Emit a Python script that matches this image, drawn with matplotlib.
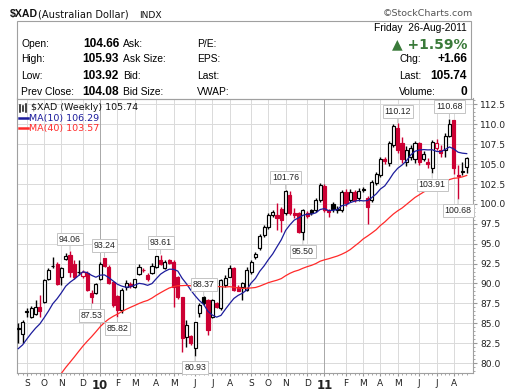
import matplotlib
matplotlib.use("Agg")
import matplotlib.pyplot as plt
import matplotlib.patches as patches
from matplotlib.ticker import MultipleLocator, FixedLocator
import numpy as np
import pandas as pd

# weekly bars ($XAD), week start dates
weeks = pd.date_range("2009-08-24", periods=105, freq="W-MON")

opens = [84.3, 83.7, 86.4, 85.8, 86.2, 87.0, 87.7, 90.6, 92.15, 92.5,
         90.8, 93.07, 93.57, 92.5, 91.45, 91.0, 91.3, 88.8, 88.8, 90.6,
         93.15, 92.1, 90.2, 88.4, 86.66, 89.6, 89.9, 89.6, 91.2, 91.75,
         91.06, 91.35, 92.1, 93.0, 91.9, 93.0, 92.7, 90.8, 88.25, 83.3,
         83.4, 81.84, 86.24, 88.3, 87.9, 85.82, 87.5, 86.87, 89.8, 90.85,
         91.9, 89.6, 89.6, 89.17, 91.4, 93.3, 94.4, 96.1, 97.1, 98.6,
         98.6, 99.4, 98.8, 101.1, 98.9, 98.8, 96.5, 98.8, 99.2, 99.2,
         100.5, 102.2, 99.2, 100.0, 99.2, 99.2, 101.5, 100.5, 101.5, 100.7,
         101.9, 100.7, 100.5, 102.6, 103.6, 105.7, 105.1, 107.4, 109.5, 107.7,
         105.3, 105.9, 105.7, 107.6, 105.7, 105.3, 104.5, 107.0, 106.8, 106.8,
         108.5, 110.5, 103.6, 104.0, 104.66]
highs = [85.07, 85.4, 86.9, 87.2, 87.9, 88.5, 90.6, 91.9, 93.36, 92.7,
         92.1, 93.8, 94.06, 92.9, 92.9, 91.7, 91.6, 89.2, 90.0, 92.7,
         93.24, 92.3, 90.3, 88.5, 89.4, 90.4, 90.2, 90.6, 92.5, 92.0,
         91.3, 92.6, 93.5, 93.61, 93.0, 93.1, 92.9, 90.9, 88.3, 85.4,
         83.5, 85.2, 87.5, 88.37, 88.0, 88.0, 87.7, 90.5, 91.06, 92.3,
         92.1, 89.8, 90.2, 92.1, 92.9, 93.9, 96.2, 97.3, 98.8, 99.2,
         100.1, 99.6, 101.76, 101.6, 99.5, 99.0, 99.4, 99.1, 99.4, 100.7,
         102.6, 102.5, 99.4, 100.2, 99.7, 101.8, 101.9, 101.9, 101.8, 102.0,
         102.1, 101.0, 103.0, 104.0, 105.9, 105.9, 107.9, 110.0, 110.12, 108.4,
         107.3, 107.4, 107.9, 107.8, 106.6, 105.8, 108.0, 108.2, 107.4, 108.9,
         110.68, 110.6, 104.9, 105.3, 105.93]
lows = [82.55, 82.55, 85.8, 85.6, 86.0, 85.8, 87.5, 90.4, 91.9, 89.8,
        89.8, 92.9, 90.85, 90.6, 91.05, 90.7, 89.0, 87.53, 88.7, 90.4,
        92.1, 89.9, 87.1, 85.82, 86.3, 89.2, 89.4, 89.4, 91.1, 91.4,
        90.3, 91.2, 91.9, 92.3, 91.8, 92.4, 87.1, 88.1, 81.4, 82.05,
        82.3, 80.93, 85.8, 87.3, 83.5, 85.6, 86.9, 86.7, 89.6, 90.8,
        89.0, 89.0, 87.9, 89.0, 91.2, 93.1, 94.2, 95.9, 96.9, 98.3,
        96.7, 96.5, 98.6, 98.6, 98.2, 96.3, 95.5, 98.2, 98.6, 99.0,
        100.3, 99.0, 98.3, 99.0, 98.9, 99.0, 99.8, 100.2, 100.2, 100.4,
        101.5, 97.5, 100.3, 102.4, 103.4, 105.0, 104.8, 107.2, 106.4, 105.2,
        104.8, 105.5, 105.1, 104.9, 105.4, 104.5, 103.91, 106.8, 105.9, 105.9,
        108.4, 103.8, 100.68, 103.6, 103.92]
closes = [84.4, 85.2, 86.5, 86.9, 87.0, 86.6, 90.4, 91.7, 92.25, 89.9,
          91.9, 93.44, 91.47, 90.85, 91.5, 91.4, 89.2, 88.3, 89.9, 92.5,
          92.2, 90.0, 87.3, 86.7, 89.17, 90.0, 89.7, 90.5, 92.1, 91.7,
          90.5, 92.2, 93.44, 92.44, 92.73, 92.6, 89.6, 88.25, 83.1, 84.8,
          82.5, 85.19, 87.3, 87.5, 84.15, 87.9, 87.0, 90.43, 90.64, 91.9,
          89.17, 89.1, 90.0, 91.7, 92.7, 93.7, 96.0, 97.1, 98.6, 99.0,
          98.2, 98.0, 101.65, 98.8, 98.6, 96.5, 99.2, 98.5, 98.8, 100.5,
          102.4, 99.2, 99.0, 99.3, 99.4, 101.5, 100.1, 101.5, 100.5, 101.6,
          101.7, 99.6, 102.8, 103.8, 105.7, 105.4, 107.6, 109.8, 106.8, 105.7,
          106.8, 107.0, 107.6, 105.3, 106.3, 105.0, 107.8, 107.7, 106.4, 108.5,
          110.0, 104.5, 103.5, 104.08, 105.74]

# closes of the 39 weeks before the first bar (feed the moving averages)
earlier_closes = [64.5, 65.8, 66.9, 66.2, 69.1, 70.4, 70.2, 69.5, 67.0, 65.3,
                  64.5, 65.0, 64.2, 63.8, 64.3, 64.9, 65.5, 65.2, 66.8,
                  71.0, 72.8, 73.9, 75.5, 76.8, 78.5, 79.6, 81.0, 82.2, 83.0, 83.7,
                  80.5, 79.0, 79.8, 80.6, 81.2, 82.6, 83.4, 83.0, 83.6]

# bars that carry a price label
high_label_bars = [12, 20, 33, 43, 62, 88, 100]
low_label_bars = [17, 23, 41, 66, 96, 102]

y_ticks = [80.0, 82.5, 85.0, 87.5, 90.0, 92.5, 95.0, 97.5, 100.0, 102.5, 105.0, 107.5, 110.0, 112.5]
legend_main = "$XAD (Weekly) 105.74"
legend_ma10 = "MA(10) 106.29"
legend_ma40 = "MA(40) 103.57"

RED = '#cc0033'
BLK = '#000000'
NAVY = '#1c1c9c'
MARED = '#ff2a2a'
W, H = 520, 391

def fx(px):
    return px / W

def fy(py):
    return 1 - py / H

fig = plt.figure(figsize=(5.2, 3.91), dpi=100)
fig.patch.set_facecolor('white')

# chart axes
ax = fig.add_axes([fx(16.7), fy(373.3), (473.3 - 16.7) / W, (373.3 - 98.5) / H])
n = len(closes)
xs = np.arange(n)

allc = pd.Series(earlier_closes + closes)
ma10 = allc.rolling(10).mean().to_numpy()[len(earlier_closes):]
ma40 = allc.rolling(40).mean().to_numpy()[len(earlier_closes):]

prev = [earlier_closes[-1]] + closes[:-1]
for i in xs:
    o, h, l, c = opens[i], highs[i], lows[i], closes[i]
    col = RED if c < prev[i] else BLK
    ax.vlines(i, l, h, color=col, lw=1.0, zorder=3)
    lo, hi = min(o, c), max(o, c)
    face = 'white' if c > o else col
    rect = patches.Rectangle((i - 0.36, lo), 0.72, max(hi - lo, 0.03),
                             facecolor=face, edgecolor=col, lw=0.85, zorder=4)
    ax.add_patch(rect)

ax.plot(xs, ma10, color=NAVY, lw=0.9, zorder=5)
ax.plot(xs, ma40, color=MARED, lw=0.9, zorder=5)

ax.set_xlim(-0.37, 105.53)
ax.set_ylim(78.71, 113.25)

# month ticks at first week of each month
month_idx, month_lab, year_flag = [], [], []
for i, d in enumerate(weeks):
    if i > 0 and d.month != weeks[i - 1].month:
        month_idx.append(i)
        if d.month == 1:
            month_lab.append(d.strftime('%y'))
            year_flag.append(True)
        else:
            month_lab.append(d.strftime('%b')[0])
            year_flag.append(False)

ax.set_xticks(month_idx)
ax.set_xticklabels(month_lab)
for t, yf in zip(ax.get_xticklabels(), year_flag):
    t.set_fontfamily('DejaVu Sans')
    if yf:
        t.set_fontweight('bold')
        t.set_fontsize(8.5)
    else:
        t.set_fontsize(6.5)
    t.set_color('#222222')
ax.xaxis.set_minor_locator(FixedLocator(list(xs)))
ax.tick_params(axis='x', which='major', length=2, color='#999999', pad=2)
ax.tick_params(axis='x', which='minor', length=1.5, color='#999999')

ax.yaxis.tick_right()
ax.set_yticks(y_ticks)
ax.set_yticklabels([f"{v:.1f}" for v in y_ticks], fontsize=6.6, color='#222222',
                   fontfamily='DejaVu Sans')
ax.yaxis.set_minor_locator(MultipleLocator(0.5))
ax.tick_params(axis='y', which='major', length=3, color='#999999', pad=2)
ax.tick_params(axis='y', which='minor', length=1.5, color='#999999')

for v in y_ticks:
    ax.axhline(v, color='#dadada', lw=0.7, zorder=0)
for i, yf in zip(month_idx, year_flag):
    ax.axvline(i, color='#a8a8a8' if yf else '#dadada', lw=0.7, zorder=0)

for s in ax.spines.values():
    s.set_color('#a0a0a0')
    s.set_linewidth(0.8)

# price labels
box = dict(boxstyle='square,pad=0.22', fc='white', ec='#c4c4c4', lw=0.7)
arrow = dict(arrowstyle='-', color='#c4c4c4', lw=0.7, shrinkA=0, shrinkB=0.5)
for i in high_label_bars:
    ax.annotate(f"{highs[i]:.2f}", xy=(i, highs[i]), xytext=(0, 5.5), textcoords='offset points',
                ha='center', va='bottom', fontsize=6.3, color='#222222',
                fontfamily='Liberation Sans', bbox=box, arrowprops=arrow, zorder=6)
for i in low_label_bars:
    ax.annotate(f"{lows[i]:.2f}", xy=(i, lows[i]), xytext=(0, -5.5), textcoords='offset points',
                ha='center', va='top', fontsize=6.3, color='#222222',
                fontfamily='Liberation Sans', bbox=box, arrowprops=arrow, zorder=6)

# chart legend
ax.text(0.032, 0.966, legend_main, transform=ax.transAxes, fontsize=6.8,
        fontfamily='DejaVu Sans', color='#111111', va='center', ha='left')
ax.text(0.028, 0.929, legend_ma10, transform=ax.transAxes, fontsize=6.8,
        fontfamily='DejaVu Sans', color=NAVY, va='center', ha='left')
ax.text(0.028, 0.891, legend_ma40, transform=ax.transAxes, fontsize=6.8,
        fontfamily='DejaVu Sans', color=MARED, va='center', ha='left')
ax.plot([0.004, 0.024], [0.929, 0.929], transform=ax.transAxes, color=NAVY, lw=1.8)
ax.plot([0.004, 0.024], [0.891, 0.891], transform=ax.transAxes, color=MARED, lw=1.8)
# tiny candle glyph
for k, (b, t) in enumerate([(0.952, 0.978), (0.956, 0.974), (0.950, 0.980)]):
    ax.plot([0.008 + k * 0.006] * 2, [b, t], transform=ax.transAxes, color='#111111', lw=1.1)

# header
fig.text(fx(10), fy(14.5), "$XAD", fontsize=7.6, fontweight='bold', fontfamily='Liberation Sans',
         va='center', color='#111111')
fig.text(fx(38), fy(14.5), "(Australian Dollar)", fontsize=7.1, fontfamily='DejaVu Sans',
         va='center', color='#111111')
fig.text(fx(139), fy(15), "INDX", fontsize=6.6, fontfamily='DejaVu Sans',
         va='center', color='#111111')
fig.text(fx(473), fy(13), "\u00a9StockCharts.com", fontsize=6.8, fontfamily='DejaVu Sans',
         va='center', ha='right', color='#555555')

fig.patches.append(patches.Rectangle((fx(16.7), fy(98.5)), (471 - 16.7) / W, (98.5 - 20.7) / H,
                                     transform=fig.transFigure, fill=False,
                                     ec='#a0a0a0', lw=0.8))

prev_close = closes[-2]
chg = closes[-1] - prev_close
pct = chg / prev_close * 100
row_y = [44, 59.5, 76, 91.7]
left_labels = ["Open:", "High:", "Low:", "Prev Close:"]
left_vals = [opens[-1], highs[-1], lows[-1], prev_close]
mid_labels = ["Ask:", "Ask Size:", "Bid:", "Bid Size:"]
far_labels = ["P/E:", "EPS:", "Last:", "VWAP:"]
for yy, a, v, b, c in zip(row_y, left_labels, left_vals, mid_labels, far_labels):
    fig.text(fx(21), fy(yy), a, fontsize=7.4, fontfamily='Liberation Sans', va='center')
    fig.text(fx(119), fy(yy), f"{v:.2f}", fontsize=8.6, fontweight='bold',
             fontfamily='Liberation Sans', va='center', ha='right')
    fig.text(fx(123), fy(yy), b, fontsize=7.4, fontfamily='Liberation Sans', va='center')
    fig.text(fx(197), fy(yy), c, fontsize=7.4, fontfamily='Liberation Sans', va='center')

fig.text(fx(467), fy(28), f"Friday  {weeks[-1] + pd.Timedelta(days=4):%d-%b-%Y}", fontsize=7.4,
         fontfamily='Liberation Sans', va='center', ha='right')
fig.text(fx(467), fy(44), f"\u25b2 {pct:+.2f}%", fontsize=10,
         fontweight='bold', fontfamily='DejaVu Sans', va='center', ha='right', color='#3a7a3a')
fig.text(fx(400), fy(59.5), "Chg:", fontsize=7.4, fontfamily='Liberation Sans', va='center')
fig.text(fx(467), fy(59.5), f"{chg:+.2f}", fontsize=8.6, fontweight='bold',
         fontfamily='Liberation Sans', va='center', ha='right')
fig.text(fx(399), fy(76), "Last:", fontsize=7.4, fontfamily='Liberation Sans', va='center')
fig.text(fx(467), fy(76), f"{closes[-1]:.2f}", fontsize=8.6, fontweight='bold',
         fontfamily='Liberation Sans', va='center', ha='right')
fig.text(fx(399), fy(91.7), "Volume:", fontsize=7.4, fontfamily='Liberation Sans', va='center')
fig.text(fx(467), fy(91.7), "0", fontsize=8.6, fontweight='bold',
         fontfamily='Liberation Sans', va='center', ha='right')

fig.savefig("out.png", dpi=100)
